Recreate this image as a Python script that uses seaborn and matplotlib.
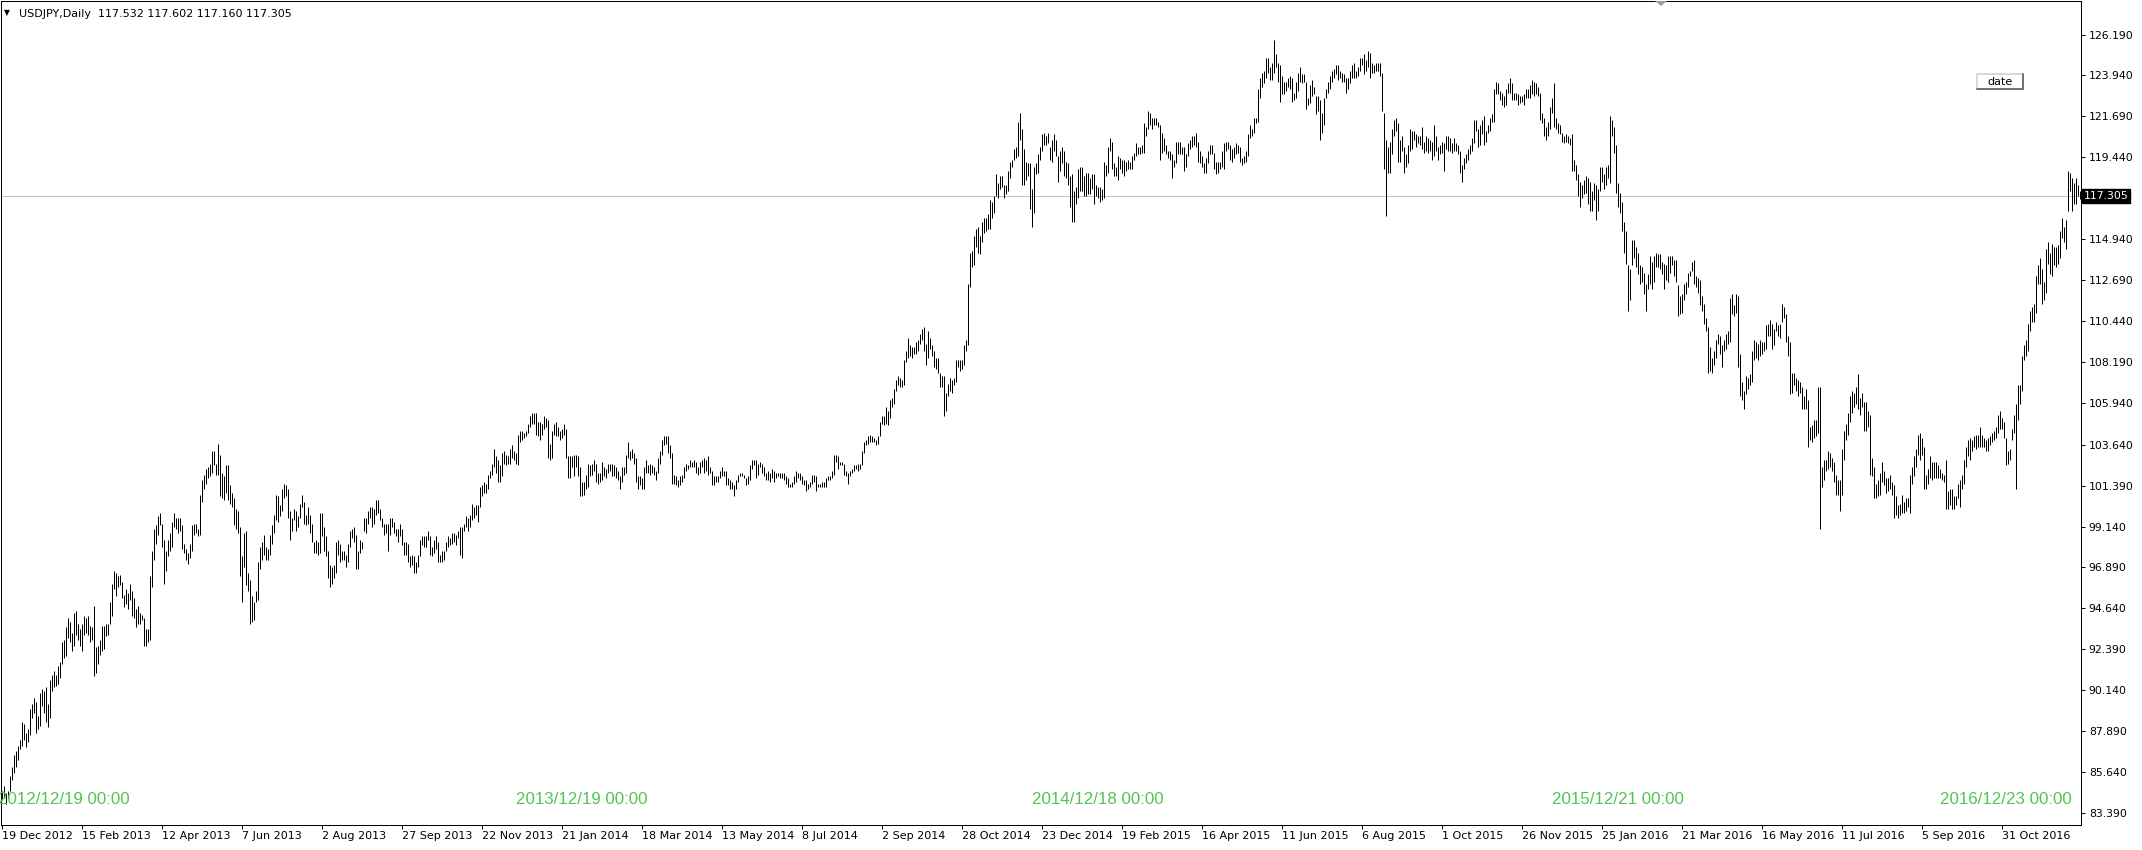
"""
USDJPY Daily - MetaTrader style bar chart
Recreate the terminal screenshot with seaborn / matplotlib
"""

# ============================================================================
# IMPORTS
# ============================================================================
import numpy as np
import pandas as pd
import matplotlib
matplotlib.use('Agg')
import matplotlib.pyplot as plt
import matplotlib.transforms as mtransforms
from matplotlib.patches import Rectangle, Polygon
from matplotlib.lines import Line2D
import seaborn as sns

# ============================================================================
# DATA (daily low / high, one line per month)
# ============================================================================
low_2012 = [84.1, 84.2, 83.9, 84.2, 84.6, 85.2, 85.6, 85.9]
high_2012 = [84.6, 84.9, 84.5, 84.6, 85.4, 85.9, 86.6, 86.8]

low_2013 = [
    86.3, 86.9, 87.1, 87.4, 87.0, 87.3, 87.7, 88.6, 88.9, 87.8, 88.0, 88.2, 89.3, 88.9, 88.4, 88.1, 88.6, 90.1, 90.3, 90.4, 90.5, 90.8,
    91.6, 91.9, 92.0, 93.0, 92.8, 92.3, 92.6, 93.2, 92.9, 92.6, 92.3, 93.2, 93.3, 93.2, 92.8, 92.9, 90.9, 91.1, 91.6, 92.1,
    92.3, 92.4, 93.1, 93.2, 93.8, 94.2, 95.7, 95.3, 95.8, 95.9, 95.2, 94.7, 94.9, 94.6, 95.1, 94.2, 94.1, 93.6, 93.8, 93.8, 94.0,
    92.6, 92.6, 92.8, 92.9, 95.8, 97.3, 98.2, 98.7, 99.2, 98.0, 96.0, 96.7, 97.5, 97.8, 98.0, 99.1, 99.0, 98.8, 98.9, 97.9, 97.7, 97.3,
    97.1, 97.4, 97.8, 98.7, 98.8, 98.6, 98.7, 100.5, 101.2, 101.5, 101.8, 101.9, 102.1, 102.5, 102.0, 102.0, 100.8, 100.7, 100.6, 101.0, 100.6, 100.4, 100.2,
    99.2, 99.0, 98.8, 96.4, 95.0, 96.9, 95.9, 95.6, 93.8, 93.9, 94.0, 95.0, 95.1, 96.8, 97.3, 97.6, 97.3, 97.3, 97.6, 98.2,
    98.8, 99.5, 99.4, 99.7, 100.0, 100.7, 100.8, 99.6, 98.4, 98.9, 99.5, 98.9, 99.1, 99.6, 100.2, 99.3, 99.2, 99.3, 98.8, 98.3, 97.7, 97.7, 97.6,
    97.7, 98.6, 97.8, 97.5, 96.3, 95.8, 96.0, 96.3, 96.6, 97.6, 97.2, 97.3, 97.3, 96.9, 97.2, 98.0, 98.5, 98.3, 96.8, 96.8, 97.7, 97.9,
    98.9, 98.8, 99.3, 99.6, 99.1, 99.3, 99.8, 99.9, 99.5, 99.1, 98.7, 98.8, 97.8, 98.7, 99.1, 98.8, 98.6, 98.3, 98.6, 98.1, 97.6,
    97.6, 97.2, 96.9, 97.0, 96.6, 96.6, 96.9, 97.5, 98.1, 98.0, 98.0, 98.4, 97.6, 97.5, 97.7, 97.9, 97.2, 97.2, 97.2, 97.3, 97.8, 98.0, 98.1,
    98.2, 98.3, 98.1, 98.5, 97.6, 97.4, 98.9, 99.1, 98.9, 99.1, 99.5, 99.6, 99.8, 99.4, 100.2, 100.8, 101.0, 101.0, 101.2, 101.8, 102.0,
    102.4, 102.1, 101.6, 101.6, 101.9, 102.6, 102.5, 102.6, 102.6, 102.9, 102.8, 102.6, 102.5, 103.8, 103.9, 104.0, 104.1, 104.3, 104.6, 104.8, 104.8,
]
high_2013 = [
    87.1, 87.4, 88.4, 88.3, 87.8, 88.0, 89.1, 89.4, 89.7, 89.5, 88.7, 90.0, 90.2, 90.1, 90.3, 89.4, 90.7, 91.0, 91.2, 91.0, 91.5, 91.7,
    92.8, 92.9, 93.6, 94.1, 93.9, 93.3, 94.4, 94.5, 93.8, 93.5, 93.8, 94.2, 94.1, 94.2, 93.7, 93.6, 94.8, 92.5, 92.6, 92.9,
    93.7, 93.7, 93.8, 93.8, 95.0, 96.0, 96.7, 96.6, 96.4, 96.5, 96.1, 95.4, 95.7, 95.5, 96.0, 95.6, 95.2, 94.6, 94.8, 94.4, 94.3,
    94.1, 93.5, 93.5, 96.4, 97.8, 99.0, 99.2, 99.7, 99.9, 99.3, 98.4, 97.8, 98.4, 98.8, 99.4, 99.9, 99.6, 99.6, 99.6, 99.2, 98.2, 97.9,
    97.7, 98.2, 99.2, 99.3, 99.3, 99.0, 100.9, 101.7, 102.0, 102.3, 102.4, 102.6, 103.3, 103.3, 102.6, 103.7, 103.1, 102.1, 101.9, 102.5, 102.5, 101.4, 101.0,
    100.7, 100.1, 100.0, 99.1, 97.5, 98.8, 98.9, 96.6, 96.2, 95.3, 95.0, 95.6, 97.2, 98.0, 98.3, 98.7, 98.0, 97.9, 98.7, 99.2,
    99.8, 100.9, 100.8, 100.3, 101.2, 101.5, 101.4, 101.2, 100.0, 99.6, 100.1, 100.0, 99.7, 100.4, 100.9, 100.5, 99.8, 100.2, 99.8, 99.3, 98.3, 98.4, 98.3,
    99.9, 99.9, 99.1, 98.6, 97.8, 97.0, 96.9, 97.0, 98.3, 98.4, 98.2, 97.8, 97.8, 97.6, 98.2, 98.9, 99.0, 99.1, 98.7, 97.8, 98.4, 98.3,
    99.6, 99.6, 100.0, 100.2, 100.2, 100.1, 100.6, 100.6, 100.1, 99.6, 99.3, 99.3, 99.3, 99.6, 99.6, 99.4, 99.0, 99.0, 99.3, 99.0, 98.3,
    98.3, 98.2, 97.5, 97.6, 97.5, 97.2, 97.6, 98.4, 98.6, 98.6, 98.6, 98.9, 98.6, 98.0, 98.4, 98.6, 98.3, 97.6, 97.8, 97.8, 98.3, 98.6, 98.5,
    98.8, 98.8, 98.7, 98.9, 99.1, 99.1, 99.3, 99.7, 99.6, 99.8, 100.4, 100.2, 100.3, 100.3, 101.3, 101.4, 101.6, 101.5, 102.0, 102.2, 102.6,
    103.4, 103.0, 102.8, 102.5, 103.2, 103.3, 103.1, 103.0, 103.4, 103.6, 103.3, 103.2, 104.2, 104.4, 104.4, 104.3, 104.4, 104.8, 105.2, 105.4, 105.4,
]

low_2014 = [
    104.2, 104.1, 103.9, 104.2, 104.5, 104.6, 102.9, 102.8, 102.9, 104.2, 104.1, 104.1, 103.9, 104.0, 104.2, 102.9, 101.8, 101.8, 102.4, 101.9, 102.4, 101.9,
    100.8, 100.8, 100.9, 101.2, 101.3, 101.9, 102.0, 102.2, 101.6, 101.5, 101.6, 101.7, 101.9, 101.8, 102.1, 102.2, 101.9, 101.9, 101.8, 101.7,
    101.2, 101.6, 102.0, 102.1, 102.9, 102.8, 102.9, 102.6, 101.6, 101.2, 101.4, 101.2, 101.2, 102.1, 102.1, 102.0, 102.1, 102.0, 101.7, 102.1, 102.6,
    103.1, 103.6, 103.7, 103.2, 102.9, 101.5, 101.5, 101.4, 101.3, 101.4, 101.6, 101.8, 102.2, 102.3, 102.4, 102.4, 102.4, 102.1, 102.0, 102.1, 102.4, 102.1,
    102.2, 102.0, 102.1, 101.4, 101.4, 101.6, 101.6, 101.8, 101.9, 101.9, 101.4, 101.4, 101.2, 101.2, 100.8, 101.2, 101.6, 101.9, 101.9, 101.8, 101.4, 101.5,
    101.7, 102.3, 102.5, 101.8, 102.0, 102.4, 102.1, 101.9, 101.7, 101.7, 101.6, 101.8, 101.6, 101.8, 101.9, 101.8, 101.8, 101.7, 101.5, 101.3, 101.3,
    101.3, 101.5, 101.6, 101.8, 101.7, 101.5, 101.4, 101.1, 101.2, 101.3, 101.5, 101.6, 101.1, 101.3, 101.3, 101.3, 101.3, 101.3, 101.7, 101.7, 101.8, 102.0, 102.7,
    102.3, 102.5, 102.5, 102.0, 101.9, 101.5, 101.9, 102.1, 102.2, 102.3, 102.2, 102.3, 102.5, 103.2, 103.6, 103.7, 103.8, 103.8, 103.8, 103.6, 103.7,
    104.1, 104.8, 104.7, 104.8, 104.7, 105.1, 105.7, 105.9, 106.6, 106.9, 106.8, 106.8, 106.9, 108.2, 108.4, 108.5, 108.4, 108.6, 108.6, 108.8, 109.2, 109.4,
    108.8, 108.0, 108.4, 108.9, 108.5, 107.9, 107.8, 107.6, 106.8, 106.8, 105.2, 105.5, 106.3, 106.6, 106.5, 106.9, 107.1, 107.9, 107.7, 107.8, 108.0, 108.8, 109.1,
    112.3, 113.4, 113.5, 114.5, 114.2, 114.1, 114.8, 115.3, 115.4, 115.5, 115.5, 116.1, 116.4, 117.3, 117.2, 117.7, 117.8, 117.2, 117.4, 117.6,
    118.3, 118.9, 119.3, 119.4, 119.5, 120.4, 117.9, 117.9, 118.2, 118.4, 116.6, 115.6, 116.4, 118.5, 118.6, 119.3, 119.8, 120.1, 120.1, 120.2, 119.3, 119.2,
]
high_2014 = [
    105.4, 104.9, 104.9, 104.8, 105.2, 105.1, 105.0, 103.7, 104.4, 104.8, 104.9, 104.6, 104.4, 104.5, 104.8, 104.5, 103.0, 103.0, 103.0, 103.1, 103.1, 103.0,
    102.4, 101.6, 101.6, 102.0, 102.6, 102.5, 102.6, 102.8, 102.6, 102.1, 102.1, 102.7, 102.4, 102.3, 102.6, 102.6, 102.6, 102.5, 102.4, 102.2,
    101.9, 102.4, 102.4, 103.1, 103.8, 103.3, 103.4, 103.2, 102.9, 101.9, 101.9, 101.8, 102.4, 102.8, 102.5, 102.6, 102.5, 102.4, 102.2, 102.9, 103.3,
    103.9, 104.1, 104.1, 104.1, 103.6, 103.2, 102.0, 101.9, 101.7, 101.9, 102.0, 102.4, 102.6, 102.5, 102.8, 102.7, 102.8, 102.7, 102.4, 102.7, 102.8, 102.9,
    102.8, 103.0, 102.4, 102.2, 101.9, 101.9, 101.9, 102.2, 102.4, 102.2, 102.2, 101.8, 101.7, 101.6, 101.4, 101.7, 102.0, 102.1, 102.1, 102.0, 101.8, 101.9,
    102.5, 102.8, 102.8, 102.8, 102.6, 102.7, 102.6, 102.4, 102.1, 102.2, 102.1, 102.3, 102.2, 102.1, 102.1, 102.1, 102.1, 102.1, 101.9, 101.8, 101.5,
    101.6, 101.9, 102.2, 102.1, 102.1, 101.9, 101.7, 101.7, 101.5, 101.6, 102.0, 102.0, 101.9, 101.5, 101.5, 101.6, 101.6, 101.8, 101.9, 101.9, 102.2, 103.1, 103.1,
    103.0, 102.7, 102.7, 102.6, 102.2, 102.1, 102.2, 102.3, 102.5, 102.5, 102.6, 102.6, 103.3, 103.8, 103.9, 104.1, 104.2, 104.1, 104.0, 103.9, 104.1,
    104.9, 105.2, 105.2, 105.7, 105.5, 106.1, 106.2, 106.7, 107.2, 107.4, 107.3, 107.2, 108.3, 108.8, 109.5, 109.1, 109.0, 109.0, 109.3, 109.4, 109.7, 110.0,
    110.1, 109.2, 109.9, 109.5, 109.1, 108.8, 108.4, 108.4, 107.6, 107.4, 107.4, 106.5, 107.0, 107.3, 107.2, 107.3, 108.3, 108.3, 108.3, 108.3, 109.1, 109.4, 112.5,
    114.2, 114.3, 115.1, 115.5, 115.6, 115.1, 115.9, 116.1, 116.1, 116.3, 117.1, 117.0, 117.3, 118.5, 118.0, 118.4, 118.4, 117.9, 117.9, 118.7,
    119.2, 119.3, 119.9, 120.0, 121.4, 121.9, 121.0, 119.9, 119.2, 119.1, 119.1, 117.7, 118.9, 119.1, 119.6, 120.0, 120.7, 120.8, 120.6, 120.8, 120.0, 120.4,
]

low_2015 = [
    119.8, 119.5, 118.1, 118.7, 119.1, 118.4, 118.3, 117.9, 116.7, 115.9, 115.9, 116.9, 117.2, 117.6, 117.6, 117.3, 117.3, 117.4, 117.4, 117.7, 116.9,
    117.3, 117.2, 117.0, 117.1, 117.2, 118.4, 118.6, 119.8, 118.8, 118.4, 118.4, 118.2, 118.8, 118.6, 118.4, 118.7, 118.8, 118.8, 118.8, 119.3,
    119.5, 119.6, 119.6, 119.7, 119.7, 120.6, 121.0, 121.2, 121.0, 121.2, 121.2, 121.1, 119.3, 119.7, 119.8, 119.6, 119.4, 119.3, 118.3, 118.9, 119.1, 119.6,
    119.6, 119.6, 118.7, 118.9, 119.5, 119.9, 120.0, 120.1, 120.0, 119.2, 119.1, 118.9, 118.6, 118.6, 119.1, 119.6, 119.6, 118.8, 118.5, 118.6, 118.8, 118.9,
    118.8, 119.8, 119.9, 119.3, 119.2, 119.4, 119.6, 119.7, 119.2, 119.0, 119.1, 119.2, 119.5, 120.5, 120.6, 120.8, 121.3, 121.4, 122.7, 123.3, 123.5,
    123.8, 124.1, 123.7, 123.7, 124.1, 124.4, 123.6, 122.5, 122.9, 122.9, 123.1, 123.3, 123.2, 122.5, 122.6, 122.7, 123.1, 123.6, 123.5, 123.6, 122.1, 122.3,
    122.4, 122.8, 122.9, 121.8, 122.0, 120.4, 120.8, 121.2, 122.7, 123.0, 123.2, 123.6, 123.8, 124.0, 123.7, 123.8, 123.6, 123.6, 123.0, 123.2, 123.5, 123.8, 123.8,
    123.8, 123.9, 124.2, 124.5, 124.0, 124.2, 124.4, 123.8, 124.1, 124.1, 124.2, 124.2, 123.9, 122.0, 118.8, 116.2, 118.6, 118.6, 119.6, 120.6, 120.9,
    119.2, 119.2, 119.8, 118.6, 118.9, 119.1, 119.8, 119.9, 120.4, 120.0, 120.2, 120.1, 119.9, 119.7, 119.8, 119.7, 119.8, 119.3, 119.5, 119.8, 119.3, 119.6,
    119.7, 118.7, 119.9, 119.8, 119.8, 119.7, 119.8, 119.8, 119.6, 118.6, 118.1, 118.8, 119.1, 119.3, 119.6, 119.8, 120.2, 120.9, 120.0, 120.1, 120.7, 120.1,
    120.3, 120.8, 120.9, 121.4, 121.4, 122.9, 122.9, 122.6, 122.3, 122.2, 122.3, 123.0, 123.0, 122.6, 122.6, 122.6, 122.3, 122.4, 122.5, 122.3, 122.7,
    122.7, 122.7, 122.9, 122.8, 122.9, 122.8, 121.5, 121.3, 120.6, 120.4, 120.6, 121.0, 121.9, 121.1, 121.0, 120.8, 120.7, 120.3, 120.2, 120.3, 120.2, 120.1,
]
high_2015 = [
    120.7, 120.4, 119.5, 119.8, 120.0, 119.8, 119.2, 119.1, 118.4, 118.5, 117.6, 117.8, 118.8, 118.9, 118.9, 118.4, 118.6, 118.6, 118.3, 118.5, 118.5,
    117.9, 117.8, 117.8, 117.7, 119.2, 119.0, 120.0, 120.5, 120.3, 119.1, 118.9, 119.5, 119.4, 119.3, 119.3, 119.2, 119.3, 119.2, 119.5, 119.7,
    120.2, 120.0, 120.0, 120.1, 121.3, 121.1, 122.0, 121.9, 121.6, 121.6, 121.6, 121.4, 121.2, 120.8, 120.5, 120.1, 119.8, 119.8, 119.6, 119.3, 120.3, 120.3,
    120.3, 120.0, 120.0, 119.6, 120.2, 120.4, 120.6, 120.6, 120.8, 120.3, 119.8, 119.5, 119.1, 119.4, 119.8, 120.1, 120.1, 119.7, 119.2, 119.2, 119.2, 119.8,
    120.2, 120.3, 120.3, 120.1, 119.9, 120.0, 120.2, 120.1, 120.0, 119.4, 119.5, 119.8, 120.7, 121.2, 121.0, 121.6, 121.6, 123.2, 123.8, 124.1, 124.2,
    124.9, 124.9, 124.4, 124.6, 125.9, 125.1, 124.6, 124.5, 123.9, 123.6, 123.6, 123.8, 123.9, 123.8, 123.0, 123.6, 124.1, 124.4, 124.0, 124.0, 123.6, 122.7,
    123.4, 123.7, 123.3, 122.8, 122.8, 122.6, 121.9, 122.7, 123.2, 123.6, 123.9, 124.2, 124.3, 124.5, 124.5, 124.2, 124.1, 124.0, 123.8, 123.8, 124.2, 124.5, 124.6,
    124.2, 124.4, 124.9, 124.9, 125.1, 124.8, 125.3, 125.2, 124.6, 124.5, 124.6, 124.6, 124.6, 124.1, 121.9, 120.4, 120.0, 120.3, 121.0, 121.5, 121.6,
    121.3, 120.4, 120.6, 120.0, 119.6, 120.1, 121.0, 120.9, 120.9, 120.7, 120.6, 120.6, 121.1, 120.3, 120.6, 120.5, 120.4, 120.3, 121.2, 120.6, 120.0, 120.1,
    120.3, 120.2, 120.6, 120.6, 120.5, 120.2, 120.5, 120.2, 120.1, 119.8, 119.0, 119.4, 119.6, 119.9, 120.1, 120.5, 121.5, 121.5, 121.0, 121.2, 121.5, 121.7,
    120.9, 121.2, 121.6, 121.8, 123.2, 123.6, 123.5, 123.1, 123.0, 122.8, 123.2, 123.5, 123.8, 123.5, 123.0, 123.0, 122.9, 122.8, 122.8, 122.9, 123.2,
    123.2, 123.4, 123.7, 123.6, 123.5, 123.3, 123.0, 121.9, 121.6, 121.1, 121.4, 122.2, 122.7, 123.5, 121.6, 121.3, 121.2, 120.8, 120.6, 120.7, 120.6, 120.5,
]

low_2016 = [
    118.7, 118.7, 118.2, 117.3, 116.7, 117.2, 117.4, 117.5, 116.9, 116.5, 116.5, 117.1, 116.0, 116.5, 117.6, 118.1, 117.7, 117.9, 118.3, 118.0,
    120.6, 119.7, 117.5, 116.7, 116.4, 115.4, 114.2, 113.6, 111.0, 111.6, 113.5, 113.9, 113.4, 113.0, 112.5, 112.6, 111.9, 111.0, 112.2, 112.5, 112.2,
    112.6, 113.4, 113.4, 113.3, 113.0, 112.2, 112.7, 112.6, 113.1, 113.5, 112.9, 112.6, 110.7, 110.8, 110.9, 111.6, 111.9, 112.3, 112.9, 113.2, 112.5, 112.3, 112.0,
    111.3, 111.0, 110.3, 109.9, 107.6, 107.7, 107.6, 108.0, 108.4, 109.2, 108.6, 107.9, 108.8, 108.9, 109.2, 109.3, 110.8, 110.7, 110.9, 107.9, 106.3,
    106.1, 105.6, 106.4, 106.7, 106.9, 107.1, 108.3, 108.4, 108.3, 108.5, 108.6, 108.8, 108.9, 109.6, 109.6, 108.9, 109.1, 109.9, 109.6, 109.5, 110.4, 110.6,
    109.3, 108.5, 106.4, 106.5, 106.9, 106.6, 106.3, 106.5, 105.6, 105.6, 105.6, 103.5, 103.9, 103.8, 104.0, 104.1, 104.3, 99.0, 101.3, 101.7, 102.2, 102.3,
    102.4, 102.2, 101.6, 100.9, 100.9, 100.0, 100.9, 102.8, 103.9, 104.2, 104.9, 105.4, 105.7, 105.9, 105.6, 105.3, 105.7, 104.4, 104.4, 104.6, 102.0,
    101.9, 100.7, 100.7, 100.8, 100.9, 101.6, 101.4, 101.0, 101.1, 101.2, 100.9, 99.6, 99.8, 99.6, 99.8, 99.9, 99.9, 100.0, 100.2, 99.9, 101.5, 101.9, 102.4,
    103.1, 102.8, 103.1, 101.2, 101.2, 101.5, 101.8, 101.7, 101.8, 101.8, 101.8, 101.8, 101.7, 101.6, 100.1, 100.1, 100.3, 100.1, 100.1, 100.3, 100.7, 100.2,
    101.2, 101.5, 102.4, 103.0, 102.8, 103.3, 103.5, 103.4, 103.5, 103.5, 103.5, 103.5, 103.3, 103.3, 103.6, 103.8, 103.9, 104.0, 104.3, 104.5, 104.5,
    104.0, 102.5, 102.6, 102.8, 103.9, 104.3, 101.2, 105.0, 105.9, 106.6, 108.3, 108.5, 108.8, 109.9, 110.4, 110.4, 110.9, 112.5, 112.5, 111.4, 111.6, 112.0,
    113.6, 113.0, 112.9, 113.5, 113.4, 113.6, 113.9, 115.0, 114.8, 114.4, 116.5, 117.6, 116.5, 116.9, 116.9, 117.3, 117.16,
]
high_2016 = [
    120.7, 119.3, 119.0, 118.5, 118.1, 117.9, 118.2, 118.4, 118.3, 118.1, 117.6, 118.0, 117.9, 117.7, 118.9, 118.9, 118.5, 118.9, 119.0, 121.7,
    121.5, 121.1, 120.1, 118.0, 117.5, 117.0, 115.9, 115.4, 113.5, 113.3, 114.9, 114.9, 114.5, 114.2, 113.5, 113.4, 113.1, 112.5, 113.0, 114.0, 113.7,
    114.0, 114.2, 114.1, 114.1, 113.7, 113.6, 113.5, 114.0, 114.0, 114.0, 113.8, 113.8, 112.4, 111.8, 111.9, 112.5, 112.6, 113.1, 113.2, 113.7, 113.8, 112.9, 112.8,
    112.7, 111.8, 111.4, 110.6, 110.1, 109.0, 108.4, 108.8, 109.4, 109.7, 109.6, 109.1, 109.4, 109.7, 109.9, 111.7, 111.9, 111.3, 111.9, 111.8, 108.6,
    107.1, 106.6, 107.4, 107.3, 107.5, 108.8, 109.4, 109.3, 109.2, 109.4, 109.3, 109.3, 110.2, 110.3, 110.5, 110.3, 110.0, 110.4, 110.2, 110.3, 111.4, 111.2,
    110.8, 109.6, 109.3, 107.6, 107.6, 107.3, 107.2, 107.1, 106.8, 106.3, 106.7, 106.1, 104.6, 104.7, 105.0, 105.0, 106.8, 106.8, 102.4, 102.8, 102.8, 103.3,
    103.2, 102.9, 102.7, 102.0, 101.7, 101.7, 103.4, 104.4, 104.8, 105.4, 106.3, 106.6, 106.5, 106.8, 107.5, 106.2, 106.5, 106.0, 106.0, 105.5, 105.3,
    102.9, 102.4, 101.5, 101.7, 102.1, 102.7, 102.2, 101.8, 101.8, 102.0, 101.6, 101.4, 100.8, 100.3, 100.4, 100.9, 100.5, 100.7, 100.7, 102.0, 102.4, 103.0, 103.4,
    104.2, 104.3, 104.0, 103.5, 102.0, 102.3, 103.0, 102.7, 102.7, 102.7, 102.5, 102.3, 102.1, 102.0, 102.8, 101.1, 101.2, 101.2, 100.8, 100.8, 101.5, 101.7,
    102.0, 102.8, 103.5, 103.9, 104.0, 103.9, 104.1, 104.2, 104.2, 104.6, 104.2, 104.0, 103.9, 104.0, 104.1, 104.3, 104.4, 104.6, 105.3, 105.5, 105.1,
    104.9, 104.0, 103.3, 103.4, 104.5, 105.3, 105.9, 106.9, 106.9, 108.5, 109.1, 109.4, 110.3, 111.0, 111.2, 111.4, 112.9, 113.5, 113.9, 113.3, 112.6, 114.4,
    114.8, 114.2, 114.7, 114.5, 114.5, 114.6, 115.4, 116.1, 115.6, 116.0, 118.7, 118.6, 118.3, 118.0, 118.3, 117.9, 117.60,
]

# bottom date scale: one label every 40 bars
date_labels = ['19 Dec 2012', '15 Feb 2013', '12 Apr 2013', '7 Jun 2013', '2 Aug 2013',
               '27 Sep 2013', '22 Nov 2013', '21 Jan 2014', '18 Mar 2014', '13 May 2014',
               '8 Jul 2014', '2 Sep 2014', '28 Oct 2014', '23 Dec 2014', '19 Feb 2015',
               '16 Apr 2015', '11 Jun 2015', '6 Aug 2015', '1 Oct 2015', '26 Nov 2015',
               '25 Jan 2016', '21 Mar 2016', '16 May 2016', '11 Jul 2016', '5 Sep 2016',
               '31 Oct 2016']

# right price scale
price_ticks = [126.19, 123.94, 121.69, 119.44, 114.94, 112.69, 110.44, 108.19, 105.94,
               103.64, 101.39, 99.14, 96.89, 94.64, 92.39, 90.14, 87.89, 85.64, 83.39]
last_price = 117.305
header = 'USDJPY,Daily  117.532 117.602 117.160 117.305'

# green text objects on the chart (bar index, text)
marker_bars = [0, 259, 517, 777, 1039]
marker_texts = ['2012/12/19 00:00', '2013/12/19 00:00', '2014/12/18 00:00',
                '2015/12/21 00:00', '2016/12/23 00:00']

# ============================================================================
# 1. BUILD FRAME
# ============================================================================
lows = low_2012 + low_2013 + low_2014 + low_2015 + low_2016
highs = high_2012 + high_2013 + high_2014 + high_2015 + high_2016
n = min(len(lows), len(highs))
print(f'bars: lows={len(lows)} highs={len(highs)}')

bar_idx = np.arange(n)
bars = pd.DataFrame({
    'bar': np.repeat(bar_idx, 2),
    'price': np.column_stack([lows[:n], highs[:n]]).ravel(),
})

# ============================================================================
# 2. PLOT
# ============================================================================
sns.set_theme(style='white')
plt.rcParams['font.family'] = ['DejaVu Sans']
plt.rcParams['axes.linewidth'] = 0.72

W, H = 2142, 850
fig = plt.figure(figsize=(W / 100, H / 100), dpi=100, facecolor='white')
ax = fig.add_axes([0.5 / W, 25.5 / H, 2080 / W, 824 / H])

ax.axhline(last_price, color='#C0C0C0', lw=0.72, zorder=1)

sns.lineplot(data=bars, x='bar', y='price', units='bar', estimator=None,
             color='black', linewidth=0.72, solid_capstyle='butt',
             legend=False, ax=ax, zorder=2)

ax.set_xlim(-0.5, 1039.5)
y_top = 119.44 + 156.8 / 18.19
ax.set_ylim(y_top - 824 / 18.19, y_top)
ax.set_xlabel('')
ax.set_ylabel('')

for side in ['left', 'right', 'top', 'bottom']:
    ax.spines[side].set_visible(True)
    ax.spines[side].set_color('black')
    ax.spines[side].set_linewidth(0.72)

# right price axis
ax.yaxis.tick_right()
ax.set_yticks(price_ticks)
ax.set_yticklabels([f'{v:.3f}' for v in price_ticks])
ax.tick_params(axis='y', which='major', right=True, left=False, direction='out',
               length=3, width=0.72, pad=3, labelsize=7.8, colors='black')

# bottom date axis
ax.set_xticks(np.arange(0, 40 * len(date_labels), 40))
ax.set_xticklabels(date_labels, ha='left')
ax.tick_params(axis='x', which='major', bottom=True, direction='out',
               length=3, width=0.72, pad=1.5, labelsize=8, colors='black')

# current price label
trans = mtransforms.blended_transform_factory(ax.transAxes, ax.transData)
ax.text(1 + 3 / 2080, last_price, f'{last_price:.3f}', transform=trans,
        ha='left', va='center', color='white', fontsize=7.8, zorder=5,
        bbox=dict(boxstyle='square,pad=0.18', fc='black', ec='black'))

# green text objects
trans_x = mtransforms.blended_transform_factory(ax.transData, ax.transAxes)
green_font = ['Liberation Sans', 'DejaVu Sans']
for b, t in zip(marker_bars, marker_texts):
    if b == marker_bars[-1]:
        ax.text(b - 4, 25 / 824, t, transform=trans_x, ha='right', va='center',
                color='#52C452', fontsize=12.2, family=green_font, zorder=4)
    else:
        ax.text(b - 1.5, 25 / 824, t, transform=trans_x, ha='left', va='center',
                color='#52C452', fontsize=12.2, family=green_font, zorder=4)

# header
fig.text(19 / W, 1 - 17.3 / H, header, ha='left', va='baseline', fontsize=8, color='black')
fig.text(7 / W, 1 - 12.7 / H, '\u25bc', ha='center', va='center', fontsize=5.5, color='black')

# small shift marker at the top
tri = Polygon([[1655 / W, 1 - 1 / H], [1667 / W, 1 - 1 / H], [1661 / W, 1 - 6 / H]],
              closed=True, transform=fig.transFigure, fc='#A0A0A0', ec='none')
fig.patches.append(tri)

# "date" button
bx0, by0, bx1, by1 = 1977, 74, 2023, 89
fig.patches.append(Rectangle((bx0 / W, 1 - by1 / H), (bx1 - bx0) / W, (by1 - by0) / H,
                             transform=fig.transFigure, fc='white', ec='none'))
for (xa, ya, xb, yb, c, lw) in [(bx0, by0, bx1, by0, '#D8D8D8', 1.4),
                               (bx0, by0, bx0, by1, '#D8D8D8', 1.4),
                               (bx0, by1, bx1, by1, '#707070', 1.4),
                               (bx1, by0, bx1, by1, '#707070', 1.4)]:
    fig.lines.append(Line2D([xa / W, xb / W], [1 - ya / H, 1 - yb / H],
                            transform=fig.transFigure, color=c, lw=lw))
fig.text((bx0 + bx1) / 2 / W, 1 - 82 / H, 'date', ha='center', va='center',
         fontsize=8, color='black')

fig.savefig('out.png', dpi=100, facecolor='white')
print('saved out.png')
